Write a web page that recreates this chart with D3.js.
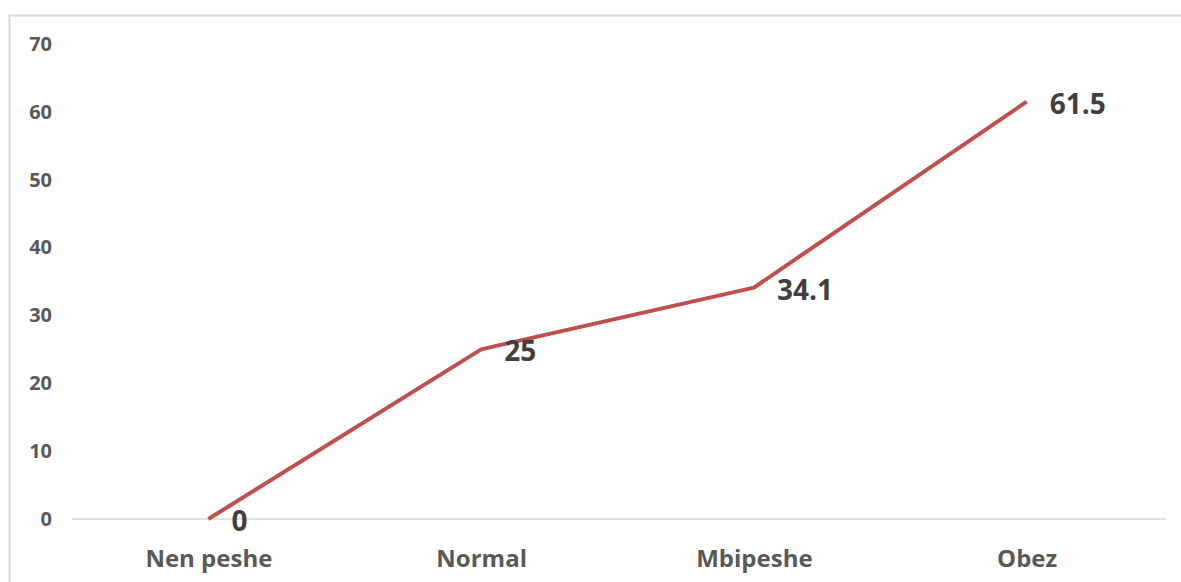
<!DOCTYPE html>
<html>
<head>
<meta charset="utf-8">
<script src="https://cdn.jsdelivr.net/npm/d3@7"></script>
<style>
  html, body { margin: 0; padding: 0; background: #fff; }
  svg { display: block; }
</style>
</head>
<body>
<svg id="chart" width="1181" height="582"></svg>
<script>
// Share by weight category (%)
const categories = ["Nen peshe", "Normal", "Mbipeshe", "Obez"];
const values = [0, 25, 34.1, 61.5];
const yTicks = [0, 10, 20, 30, 40, 50, 60, 70];

const svg = d3.select("#chart");
const W = 1181, H = 582;
const font = "'Open Sans', sans-serif";

// chart frame
svg.append("rect")
  .attr("x", 9.5).attr("y", 15.5)
  .attr("width", W + 20).attr("height", H + 20)
  .attr("fill", "#fff").attr("stroke", "#d9d9d9").attr("stroke-width", 2);

const plot = { left: 72, right: 1163, top: 44, bottom: 519 };

const x = d3.scalePoint()
  .domain(categories)
  .range([plot.left, plot.right])
  .padding(0.5);

const y = d3.scaleLinear()
  .domain([0, 70])
  .range([plot.bottom, plot.top]);

// baseline
svg.append("line")
  .attr("x1", plot.left).attr("x2", 1166)
  .attr("y1", y(0)).attr("y2", y(0))
  .attr("stroke", "#d9d9d9").attr("stroke-width", 1.5);

// y axis labels
const yAxis = d3.axisLeft(y).tickValues(yTicks).tickSize(0).tickPadding(0);
const gy = svg.append("g").attr("transform", "translate(52,0)").call(yAxis);
gy.select(".domain").remove();
gy.selectAll("text")
  .attr("font-family", font).attr("font-weight", "bold")
  .attr("font-size", 20).attr("fill", "#595959");

// x axis labels
const xAxis = d3.axisBottom(x).tickSize(0).tickPadding(0);
const gx = svg.append("g").attr("transform", "translate(0,0)").call(xAxis);
gx.select(".domain").remove();
gx.selectAll("text")
  .attr("y", 567).attr("dy", null)
  .attr("font-family", font).attr("font-weight", "bold")
  .attr("font-size", 24).attr("fill", "#595959");

// series line
const line = d3.line()
  .x((d, i) => x(categories[i]))
  .y(d => y(d));

svg.append("path")
  .datum(values)
  .attr("d", line)
  .attr("fill", "none")
  .attr("stroke", "#c0504d")
  .attr("stroke-width", 4)
  .attr("stroke-linejoin", "round");

// value labels
svg.append("g").selectAll("text")
  .data(values)
  .join("text")
  .attr("x", (d, i) => x(categories[i]) + 23)
  .attr("y", d => y(d) + 12)
  .attr("font-family", font).attr("font-weight", "bold")
  .attr("font-size", 28).attr("fill", "#404040")
  .text(d => d);
</script>
</body>
</html>
